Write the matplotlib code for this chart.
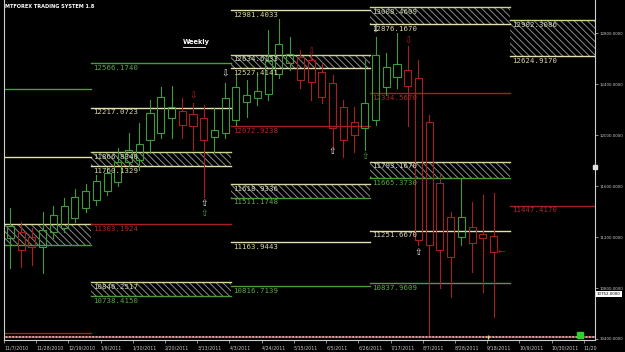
import matplotlib.pyplot as plt
from matplotlib.patches import Rectangle
from matplotlib.lines import Line2D

# Weekly candles, first one is the week of 11/7/2010
opens = [11194, 11241, 11202, 11123, 11241, 11272, 11351, 11430, 11492, 11563,
         11634, 11791, 11806, 11963, 12018, 12136, 12191, 12168, 12136, 11987,
         12018, 12121, 12262, 12293, 12325, 12482, 12568, 12615, 12592, 12498,
         12411, 12223, 12105, 12058, 12121, 12380, 12458, 12513, 12450, 12105,
         11626, 11359, 11202, 11280, 11225, 11210]
highs = [11430, 11319, 11272, 11398, 11445, 11508, 11579, 11618, 11689, 11751,
         11901, 12018, 12097, 12278, 12380, 12388, 12293, 12254, 12238, 12215,
         12411, 12474, 12435, 12498, 12827, 12914, 12773, 12670, 12631, 12576,
         12474, 12278, 12223, 12592, 12773, 12647, 12804, 12702, 12592, 12160,
         11689, 11398, 11657, 11476, 11531, 11547]
lows = [10958, 10966, 10982, 10919, 11194, 11241, 11319, 11398, 11453, 11531,
        11602, 11759, 11728, 11861, 11979, 11979, 11979, 11885, 11516, 11869,
        11979, 12081, 12144, 12238, 12278, 12450, 12513, 12372, 12278, 12254,
        11901, 11830, 11869, 11885, 12081, 12317, 12372, 12073, 11139, 10432,
        10801, 10730, 11139, 10927, 10770, 10574]
closes = [11288, 11100, 11123, 11257, 11374, 11445, 11516, 11563, 11642, 11704,
          11791, 11885, 11932, 12176, 12301, 12223, 12081, 12073, 11963, 12042,
          12293, 12380, 12317, 12348, 12584, 12718, 12639, 12435, 12419, 12301,
          12058, 11963, 12003, 12254, 12631, 12537, 12560, 12388, 11178, 11139,
          11100, 11045, 11359, 11154, 11194, 11084]

# quarter boundaries (in weeks) for the pivot levels
seg_x = [-1, 7.5, 20.5, 33.5, 46.5, 55]

# single lines: segment, price, kind (g = green, b = beige, r = red)
line_seg = [0, 0, 0, 1, 1, 1, 2, 2, 2, 2, 3, 3, 3, 4]
line_val = [12364, 11830, 10447,
            12566.1740, 12217.0723, 11303.1924,
            12981.4033, 12072.9238, 11163.9443, 10816.7139,
            12334.5670, 11251.6670, 10837.9609,
            11447.4170]
line_kind = ['g', 'b', 'r',
             'g', 'b', 'r',
             'b', 'r', 'b', 'g',
             'r', 'b', 'g',
             'r']

# hatched zones: segment, top, bottom, colour of bottom edge
zone_seg = [0, 1, 1, 2, 2, 3, 3, 4]
zone_top = [11304, 11866.8340, 10846.2517, 12634.6133, 11618.9336,
            13008.4609, 11793.1670, 12902.3086]
zone_bot = [11139, 11760.1329, 10738.4150, 12527.4141, 11511.1748,
            12876.1670, 11665.3730, 12624.9170]
zone_edge = ['g', 'b', 'g', 'b', 'g', 'b', 'g', 'b']

# signal arrows: week, price, glyph, colour
arrow_x = [17, 18, 18, 20, 28, 30, 33, 34, 37, 38, 45.7]
arrow_y = [12309, 11461, 11382, 12482, 12655, 11869, 11830, 12827, 12741,
           11076, 11092]
arrow_g = ['⇩', '⇧', '⇧', '⇩', '⇩', '⇧', '⇧', '⇩', '⇩', '⇧', '←']
arrow_c = ['r', 'w', 'g', 'w', 'r', 'w', 'g', 'w', 'r', 'w', 'r']

yticks = [10400, 10800, 11200, 11600, 12000, 12400, 12800]
xlabels = ['11/7/2010', '11/28/2010', '12/19/2010', '1/9/2011', '1/30/2011',
           '2/20/2011', '3/13/2011', '4/3/2011', '4/24/2011', '5/15/2011',
           '6/5/2011', '6/26/2011', '7/17/2011', '8/7/2011', '8/28/2011',
           '9/18/2011', '10/9/2011', '10/30/2011', '11/20']
last_price = 10752.0

cols = {'g': '#4f9a3c', 'b': '#e4e0b0', 'r': '#a8201e', 'w': '#f0f0f0'}
txt = {'g': '#5ea64a', 'b': '#d8d4a8', 'r': '#b02a26', 'w': '#f0f0f0'}
candle_g = '#3f9a3a'
candle_r = '#a3221f'
mono = 'DejaVu Sans Mono'
lab_fs = 5.3

fig = plt.figure(figsize=(6.25, 3.52), dpi=100, facecolor='black')
ax = fig.add_axes([4 / 625, 12 / 352, 591 / 625, 340 / 352])
ax.set_facecolor('black')
ax.set_xlim(-0.28, 54.44)
ax.set_ylim(10392, 13063)
plt.rcParams['hatch.linewidth'] = 0.7

# zones first so candles sit on top
for s, t, b, e in zip(zone_seg, zone_top, zone_bot, zone_edge):
    x0, x1 = seg_x[s], seg_x[s + 1]
    ax.add_patch(Rectangle((x0, b), x1 - x0, t - b, fill=False, lw=0,
                           hatch='\\\\\\\\\\', edgecolor='#8a8a8a', zorder=1))
    top_c = '#c8d890' if e == 'b' else '#d8d8a0'
    ax.plot([x0, x1], [t, t], color=top_c, lw=1, zorder=2)
    ax.plot([x0, x1], [b, b], color=cols[e], lw=1, zorder=2)
    if s > 0:
        ax.text(x0 + 0.2, t - 14, f'{t:.4f}', color='#d0dcb8', fontsize=lab_fs,
                family=mono, va='top', ha='left', zorder=4)
        ax.text(x0 + 0.2, b - 14, f'{b:.4f}', color=txt[e], fontsize=lab_fs,
                family=mono, va='top', ha='left', zorder=4)

for s, v, k in zip(line_seg, line_val, line_kind):
    x0, x1 = seg_x[s], seg_x[s + 1]
    ax.plot([x0, x1], [v, v], color=cols[k], lw=1, zorder=2)
    if s > 0:
        ax.text(x0 + 0.2, v - 14, f'{v:.4f}', color=txt[k], fontsize=lab_fs,
                family=mono, va='top', ha='left', zorder=4)

# hollow candles
for i, (o, h, l, c) in enumerate(zip(opens, highs, lows, closes)):
    col = candle_g if c >= o else candle_r
    ax.plot([i, i], [l, min(o, c)], color=col, lw=0.8, zorder=3)
    ax.plot([i, i], [max(o, c), h], color=col, lw=0.8, zorder=3)
    ax.add_patch(Rectangle((i - 0.33, min(o, c)), 0.66, abs(c - o),
                           facecolor='none', edgecolor=col, lw=0.8, zorder=3))

for x, y, g, c in zip(arrow_x, arrow_y, arrow_g, arrow_c):
    ax.text(x, y, g, color=cols[c], fontsize=6.5, ha='center', va='center',
            family='DejaVu Sans', zorder=5)

# dotted strip along the bottom
ax.axhline(10418, color='#d0d0d0', lw=1.2, zorder=2)
ax.axhline(10418, color='#a02828', lw=1.2, ls=(0, (1, 1)), zorder=2)
ax.plot([44.5], [10418], marker='|', color='#f0e060', ms=3, zorder=3)
ax.plot([53.0], [10432], marker='s', color='#30d030', ms=4, zorder=3)
ax.plot([1.0], [11751], marker='s', color='#e0e0e0', ms=2.5,
        transform=ax.get_yaxis_transform(), clip_on=False, zorder=6)

ax.spines['top'].set_visible(False)
for sp in ['left', 'right', 'bottom']:
    ax.spines[sp].set_color('#d0d0d0')
    ax.spines[sp].set_linewidth(0.8)

ax.yaxis.tick_right()
ax.set_yticks(yticks)
ax.set_yticklabels([f'{v:.4f}' for v in yticks])
ax.tick_params(axis='y', colors='#c8c8c8', labelsize=2.9, length=2, width=0.5,
               pad=1.5)
ax.set_xticks([-0.6 + 3 * j for j in range(len(xlabels))])
ax.set_xticklabels(xlabels, ha='left')
ax.tick_params(axis='x', colors='#c8c8c8', labelsize=3.4, length=2, width=0.5,
               pad=2)

ax.text(1.003, last_price, f'{last_price:.4f}', transform=ax.get_yaxis_transform(),
        fontsize=2.9, color='black', va='center', ha='left',
        bbox=dict(facecolor='white', edgecolor='none', pad=0.8))

fig.text(5 / 625, 1 - 7 / 352, 'MTFOREX TRADING SYSTEM 1.8', color='white',
         fontsize=3.6, weight='bold', va='center')
fig.text(183 / 625, 1 - 42 / 352, 'Weekly', color='white', fontsize=4.8,
         weight='bold', va='center')
fig.add_artist(Line2D([183 / 625, 205 / 625], [1 - 46.5 / 352] * 2,
                      color='white', lw=0.6))

fig.savefig('out.png', dpi=100, facecolor='black')
